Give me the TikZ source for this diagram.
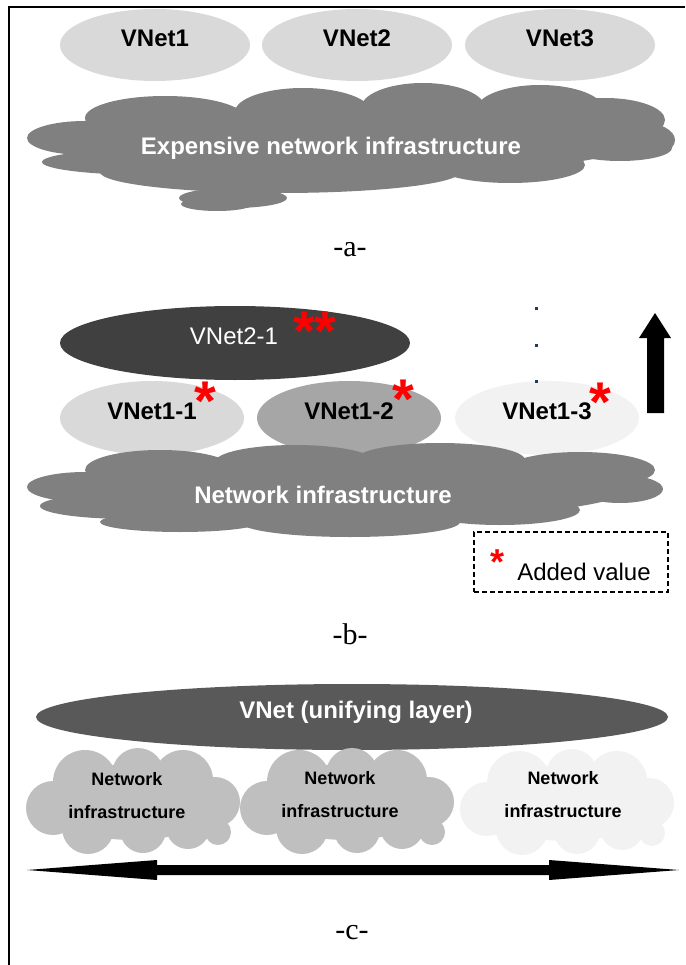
\documentclass[tikz,border=0pt]{standalone}
\usepackage{fontspec}
\setmainfont{Liberation Sans}
\newfontfamily\capfont{Liberation Serif}
\usetikzlibrary{shapes.geometric}

\definecolor{vlight}{HTML}{D9D9D9}
\definecolor{vmid}{HTML}{A6A6A6}
\definecolor{vpale}{HTML}{F2F2F2}
\definecolor{vdark}{HTML}{404040}
\definecolor{vunify}{HTML}{595959}
\definecolor{infragray}{HTML}{808080}
\definecolor{infralight}{HTML}{BFBFBF}
\definecolor{dotblue}{HTML}{1F3864}

\begin{document}
\begin{tikzpicture}[x=1pt, y=-1pt,
    vnet/.style={ellipse, inner sep=0pt, minimum width=190, minimum height=72},
    lbl/.style={font=\fontsize{24}{28}\selectfont\bfseries, inner sep=0pt},
    thin/.style={font=\fontsize{24}{28}\selectfont, inner sep=0pt},
    small/.style={font=\fontsize{18}{33}\selectfont\bfseries, inner sep=0pt, align=center},
    plbl/.style={font=\capfont\fontsize{30}{34}\selectfont, inner sep=0pt},
    redstar/.style={font=\fontsize{56}{60}\selectfont\bfseries, text=red, inner sep=0pt, anchor=north}]
        \useasboundingbox (0,0) rectangle (685,965);
        \draw[line width=2] (685,7) -- (9,7) -- (9,965);

        % -a-
        \node[vnet, fill=vlight] (vnet1) at (155,45) {};
        \node[vnet, fill=vlight] (vnet2) at (357,45) {};
        \node[vnet, fill=vlight] (vnet3) at (560,45) {};
        \node[lbl] (vnet1-txt) at ([yshift=7]vnet1.center) {VNet1};
        \node[lbl] (vnet2-txt) at ([yshift=7]vnet2.center) {VNet2};
        \node[lbl] (vnet3-txt) at ([yshift=7]vnet3.center) {VNet3};

        \foreach \cx/\cy/\rx/\ry in {350/140/290/35, 165/118/80/22, 303/112/68/24, 423/108/62/25,
                540/110/64/25, 605/120/60/22, 640/140/35/18, 85/138/58/17, 150/162/108/13,
                280/172/180/21, 510/165/75/18, 620/148/52/13, 233/198/54/10, 217/204/36/7}
            \fill[infragray] (\cx,\cy) ellipse [x radius=\rx, y radius=\ry];
        \node[lbl, text=white] (infra-a) at (331,148) {Expensive network infrastructure};

        \node[plbl] (parta) at (350,250) {-a-};

        % -b-
        \node[vnet, fill=vdark, minimum width=350, minimum height=74] (vnet21) at (235,343) {};
        \node[thin, text=white] (vnet21-txt) at (234,336) {VNet2-1};
        \node[redstar] (star21) at (315,312) {**};

        \fill (655,313) -- (671,338) -- (664,338) -- (664,413) -- (647,413) -- (647,338) -- (639,338) -- cycle;

        \node[vnet, fill=vlight, minimum width=184, minimum height=74] (vnet11) at (152,418) {};
        \node[vnet, fill=vmid, minimum width=184, minimum height=74] (vnet12) at (349,418) {};
        \node[vnet, fill=vpale, minimum width=184, minimum height=74] (vnet13) at (547,418) {};
        \node[lbl] (vnet11-txt) at ([yshift=7]vnet11.center) {VNet1-1};
        \node[lbl] (vnet12-txt) at ([yshift=7]vnet12.center) {VNet1-2};
        \node[lbl] (vnet13-txt) at ([yshift=7]vnet13.center) {VNet1-3};
        \node[redstar] (star11) at (205,382) {*};
        \node[redstar] (star12) at (403,380) {*};
        \node[redstar] (star13) at (600,383) {*};

        \foreach \y in {308,345,381}
            \fill[dotblue] (534.5,\y-1.5) rectangle ++(3,3);

        \foreach \cx/\cy/\rx/\ry in {345/488/285/32, 160/470/75/20, 295/462/80/17, 440/460/85/17,
                580/470/75/18, 85/487/58/15, 620/489/43/14, 130/506/90/13, 180/522/80/10,
                350/522/110/15, 500/510/80/15}
            \fill[infragray] (\cx,\cy) ellipse [x radius=\rx, y radius=\ry];
        \node[lbl, text=white] (infra-b) at (323,495) {Network infrastructure};

        \node[draw, dashed, dash pattern=on 5pt off 3pt, line width=1.5, inner sep=0pt,
            minimum width=194, minimum height=60] (legend) at (571,562) {};
        \node[redstar, font=\fontsize{36}{40}\selectfont\bfseries] (legend-star) at (497,550) {*};
        \node[thin] (legend-txt) at (584,572) {Added value};

        \node[plbl] (partb) at (350,634) {-b-};

        % -c-
        \node[vnet, fill=vunify, minimum width=632, minimum height=66] (vnetu) at (352,717) {};
        \node[lbl, text=white] (vnetu-txt) at (356,712) {VNet (unifying layer)};

        \foreach \cx/\cy/\col in {133/800/infralight, 347/800/infralight, 567/801/vpale} {
            \fill[\col] (\cx,\cy+2) ellipse [x radius=88, y radius=38];
            \foreach \dx/\dy/\r in {-48/-18/32, 5/-26/26, 50/-20/30, 82/2/25, -80/8/27,
                    -45/28/26, 10/30/23, 55/27/22, 85/32/13}
                \fill[\col] (\cx+\dx,\cy+\dy) circle [radius=\r];
        }
        \node[small] (infra-c1) at (127,796) {Network\\infrastructure};
        \node[small] (infra-c2) at (340,795) {Network\\infrastructure};
        \node[small] (infra-c3) at (563,795) {Network\\infrastructure};

        \fill (27,870) -- (157,860) -- (157,865) -- (549,865) -- (549,860) -- (679,870)
            -- (549,880) -- (549,875) -- (157,875) -- (157,880) -- cycle;

        \node[plbl] (partc) at (352,933) {-c-};
\end{tikzpicture}
\end{document}
